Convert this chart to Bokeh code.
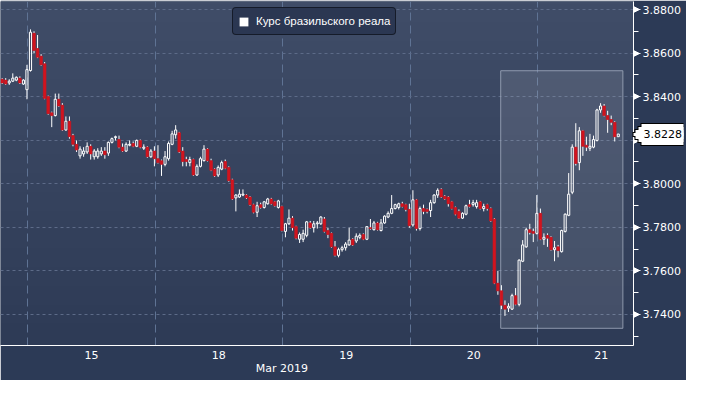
import numpy as np
from bokeh.plotting import figure
from bokeh.models import (FixedTicker, NumeralTickFormatter, BoxAnnotation,
                          Range1d, Legend, LegendItem, ColumnDataSource, LinearAxis)
from bokeh.embed import file_html
from bokeh.resources import INLINE

# ---------------- data ----------------
series_name = "Курс бразильского реала"
day_labels = ["15", "18", "19", "20", "21"]
month_label = "Mar 2019"
last_price = 3.8228
y_ticks = [3.74, 3.76, 3.78, 3.80, 3.82, 3.84, 3.86, 3.88]

open_ = [
    3.8480, 3.8476, 3.8463, 3.8471, 3.8476, 3.8485, 3.8458, 3.8432, 3.8520, 3.8691,
    3.8621, 3.8586, 3.8551, 3.8401, 3.8326, 3.8313, 3.8388, 3.8361, 3.8247, 3.8287,
    3.8221, 3.8181, 3.8128, 3.8137, 3.8146, 3.8172, 3.8124, 3.8124, 3.8137, 3.8150,
    3.8141, 3.8190, 3.8212, 3.8203, 3.8168, 3.8150, 3.8177, 3.8185, 3.8172, 3.8199,
    3.8163, 3.8168, 3.8124, 3.8150, 3.8115, 3.8106, 3.8089, 3.8115, 3.8181, 3.8225,
    3.8234, 3.8150, 3.8111, 3.8097, 3.8111, 3.8040, 3.8080, 3.8106, 3.8159, 3.8106,
    3.8067, 3.8040, 3.8067, 3.8102, 3.8075, 3.8018, 3.7935, 3.7939, 3.7948, 3.7948,
    3.7939, 3.7904, 3.7869, 3.7904, 3.7891, 3.7908, 3.7930, 3.7917, 3.7891, 3.7895,
    3.7781, 3.7816, 3.7842, 3.7803, 3.7745, 3.7745, 3.7763, 3.7820, 3.7798, 3.7816,
    3.7816, 3.7838, 3.7785, 3.7772, 3.7710, 3.7671, 3.7697, 3.7706, 3.7719, 3.7745,
    3.7737, 3.7754, 3.7767, 3.7745, 3.7798, 3.7789, 3.7820, 3.7785, 3.7820, 3.7847,
    3.7864, 3.7886, 3.7891, 3.7908, 3.7904, 3.7882, 3.7811, 3.7926, 3.7794, 3.7886,
    3.7882, 3.7877, 3.7913, 3.7948, 3.7974, 3.7943, 3.7939, 3.7917, 3.7891, 3.7873,
    3.7842, 3.7860, 3.7904, 3.7904, 3.7895, 3.7917, 3.7886, 3.7904, 3.7886, 3.7838,
    3.7543, 3.7508, 3.7442, 3.7429, 3.7424, 3.7486, 3.7446, 3.7644, 3.7710, 3.7789,
    3.7781, 3.7772, 3.7864, 3.7745, 3.7763, 3.7754, 3.7697, 3.7710, 3.7688, 3.7781,
    3.7855, 3.7961, 3.8168, 3.8097, 3.8243, 3.8177, 3.8163, 3.8168, 3.8199, 3.8339,
    3.8357, 3.8313, 3.8295, 3.8282, 3.8216,
]
high = [
    3.8485, 3.8485, 3.8480, 3.8507, 3.8493, 3.8493, 3.8480, 3.8546, 3.8709, 3.8700,
    3.8683, 3.8595, 3.8559, 3.8405, 3.8331, 3.8414, 3.8414, 3.8370, 3.8309, 3.8309,
    3.8229, 3.8199, 3.8172, 3.8168, 3.8190, 3.8181, 3.8159, 3.8163, 3.8168, 3.8168,
    3.8194, 3.8212, 3.8221, 3.8221, 3.8185, 3.8190, 3.8199, 3.8194, 3.8203, 3.8203,
    3.8181, 3.8172, 3.8159, 3.8172, 3.8177, 3.8111, 3.8150, 3.8194, 3.8243, 3.8269,
    3.8238, 3.8168, 3.8124, 3.8124, 3.8115, 3.8089, 3.8124, 3.8177, 3.8163, 3.8115,
    3.8071, 3.8084, 3.8106, 3.8111, 3.8080, 3.8023, 3.7952, 3.7974, 3.7974, 3.7952,
    3.7943, 3.7908, 3.7917, 3.7913, 3.7921, 3.7935, 3.7935, 3.7921, 3.7926, 3.7899,
    3.7820, 3.7882, 3.7851, 3.7807, 3.7776, 3.7789, 3.7829, 3.7829, 3.7829, 3.7829,
    3.7851, 3.7847, 3.7798, 3.7776, 3.7737, 3.7706, 3.7715, 3.7732, 3.7798, 3.7750,
    3.7772, 3.7772, 3.7772, 3.7803, 3.7838, 3.7829, 3.7825, 3.7838, 3.7855, 3.7873,
    3.7948, 3.7908, 3.7913, 3.7917, 3.7908, 3.7908, 3.7970, 3.7930, 3.7895, 3.7904,
    3.7886, 3.7926, 3.7952, 3.7979, 3.7979, 3.7948, 3.7943, 3.7921, 3.7895, 3.7882,
    3.7869, 3.7904, 3.7926, 3.7926, 3.7926, 3.7921, 3.7908, 3.7908, 3.7891, 3.7842,
    3.7600, 3.7534, 3.7464, 3.7451, 3.7495, 3.7521, 3.7653, 3.7741, 3.7798, 3.7816,
    3.7794, 3.7948, 3.7886, 3.7772, 3.7772, 3.7759, 3.7737, 3.7719, 3.7789, 3.7864,
    3.8049, 3.8181, 3.8278, 3.8260, 3.8247, 3.8216, 3.8229, 3.8221, 3.8344, 3.8370,
    3.8366, 3.8335, 3.8313, 3.8287, 3.8229,
]
low = [
    3.8458, 3.8454, 3.8454, 3.8467, 3.8471, 3.8458, 3.8454, 3.8388, 3.8515, 3.8599,
    3.8577, 3.8542, 3.8388, 3.8317, 3.8260, 3.8309, 3.8353, 3.8243, 3.8243, 3.8207,
    3.8172, 3.8146, 3.8115, 3.8124, 3.8137, 3.8111, 3.8111, 3.8115, 3.8128, 3.8115,
    3.8128, 3.8185, 3.8199, 3.8163, 3.8146, 3.8146, 3.8172, 3.8168, 3.8168, 3.8163,
    3.8155, 3.8119, 3.8119, 3.8080, 3.8093, 3.8036, 3.8080, 3.8106, 3.8177, 3.8207,
    3.8141, 3.8080, 3.8080, 3.8080, 3.8036, 3.8036, 3.8075, 3.8102, 3.8102, 3.8058,
    3.8031, 3.8031, 3.8062, 3.8067, 3.8009, 3.7926, 3.7873, 3.7935, 3.7943, 3.7930,
    3.7899, 3.7864, 3.7847, 3.7886, 3.7886, 3.7904, 3.7904, 3.7895, 3.7886, 3.7781,
    3.7754, 3.7811, 3.7785, 3.7745, 3.7728, 3.7732, 3.7754, 3.7794, 3.7776, 3.7794,
    3.7811, 3.7776, 3.7750, 3.7706, 3.7666, 3.7662, 3.7688, 3.7693, 3.7715, 3.7715,
    3.7728, 3.7745, 3.7741, 3.7741, 3.7789, 3.7785, 3.7785, 3.7781, 3.7816, 3.7842,
    3.7860, 3.7882, 3.7882, 3.7891, 3.7873, 3.7798, 3.7803, 3.7785, 3.7785, 3.7860,
    3.7864, 3.7847, 3.7908, 3.7935, 3.7935, 3.7926, 3.7895, 3.7882, 3.7855, 3.7838,
    3.7838, 3.7855, 3.7891, 3.7895, 3.7886, 3.7882, 3.7873, 3.7877, 3.7825, 3.7539,
    3.7490, 3.7424, 3.7393, 3.7411, 3.7420, 3.7442, 3.7437, 3.7640, 3.7706, 3.7767,
    3.7732, 3.7767, 3.7741, 3.7719, 3.7710, 3.7693, 3.7644, 3.7662, 3.7684, 3.7776,
    3.7851, 3.7952, 3.8084, 3.8062, 3.8128, 3.8150, 3.8150, 3.8163, 3.8194, 3.8326,
    3.8309, 3.8234, 3.8269, 3.8194, 3.8216,
]
close = [
    3.8463, 3.8458, 3.8471, 3.8485, 3.8489, 3.8463, 3.8476, 3.8524, 3.8696, 3.8612,
    3.8581, 3.8546, 3.8392, 3.8322, 3.8313, 3.8388, 3.8357, 3.8247, 3.8287, 3.8216,
    3.8181, 3.8155, 3.8159, 3.8150, 3.8172, 3.8137, 3.8150, 3.8150, 3.8150, 3.8133,
    3.8190, 3.8207, 3.8216, 3.8168, 3.8150, 3.8181, 3.8181, 3.8172, 3.8199, 3.8168,
    3.8168, 3.8124, 3.8150, 3.8115, 3.8097, 3.8089, 3.8124, 3.8185, 3.8229, 3.8247,
    3.8146, 3.8102, 3.8102, 3.8111, 3.8040, 3.8080, 3.8115, 3.8159, 3.8106, 3.8062,
    3.8036, 3.8075, 3.8097, 3.8071, 3.8014, 3.7930, 3.7948, 3.7952, 3.7952, 3.7935,
    3.7904, 3.7869, 3.7899, 3.7891, 3.7917, 3.7930, 3.7908, 3.7899, 3.7921, 3.7785,
    3.7816, 3.7842, 3.7798, 3.7750, 3.7767, 3.7772, 3.7825, 3.7798, 3.7816, 3.7820,
    3.7847, 3.7781, 3.7767, 3.7710, 3.7671, 3.7697, 3.7706, 3.7723, 3.7741, 3.7719,
    3.7759, 3.7763, 3.7745, 3.7803, 3.7794, 3.7820, 3.7789, 3.7820, 3.7851, 3.7864,
    3.7886, 3.7904, 3.7908, 3.7895, 3.7882, 3.7807, 3.7926, 3.7794, 3.7886, 3.7873,
    3.7873, 3.7913, 3.7948, 3.7970, 3.7939, 3.7930, 3.7908, 3.7886, 3.7860, 3.7842,
    3.7864, 3.7899, 3.7895, 3.7913, 3.7913, 3.7886, 3.7895, 3.7886, 3.7829, 3.7543,
    3.7508, 3.7442, 3.7424, 3.7437, 3.7486, 3.7446, 3.7649, 3.7719, 3.7789, 3.7776,
    3.7772, 3.7864, 3.7745, 3.7754, 3.7750, 3.7697, 3.7706, 3.7693, 3.7785, 3.7860,
    3.7952, 3.8168, 3.8093, 3.8243, 3.8172, 3.8168, 3.8172, 3.8203, 3.8339, 3.8357,
    3.8313, 3.8295, 3.8282, 3.8216, 3.8228,
]

# ---------------- layout constants ----------------
candles_per_day = 36
first_boundary = 7.2            # x (candle units) of first day separator
highlight_left, highlight_right = 140.8, 175.3
highlight_bottom, highlight_top = 3.7336, 3.8519
X0, X1 = -0.47, 178.3
Y0, Y1 = 3.7257, 3.8837

N = len(close)
o = np.array(open_); c = np.array(close); h = np.array(high); l = np.array(low)
xs = np.arange(N)
up = c >= o
btop = np.maximum(o, c)
bbot = np.minimum(o, c)

RED = "#d2141e"
FONT = "DejaVu Sans"

p = figure(width=686, height=380, output_backend="svg", toolbar_location=None,
           x_range=Range1d(X0, X1), y_range=Range1d(Y0, Y1),
           y_axis_location="right", min_border_left=0, min_border_top=1,
           min_border_bottom=35, min_border_right=53)
p.background_fill_color = "#37445f"
p.border_fill_color = "#2c3a56"
p.outline_line_color = None

# vertical gradient background
ny = 128
t = np.linspace(0.0, 1.0, ny)[:, None]
bot_rgb = np.array([46, 59, 86]); top_rgb = np.array([64, 77, 104])
cols = (bot_rgb * (1 - t) + top_rgb * t).astype(np.uint8)
img = np.empty((ny, 1), dtype=np.uint32)
view = img.view(dtype=np.uint8).reshape((ny, 1, 4))
view[:, 0, 0] = cols[:, 0]; view[:, 0, 1] = cols[:, 1]; view[:, 0, 2] = cols[:, 2]; view[:, 0, 3] = 255
p.image_rgba(image=[img], x=X0, y=Y0, dw=X1 - X0, dh=Y1 - Y0, level="image")

# grids
day_bounds = [first_boundary + k * candles_per_day for k in range(len(day_labels))]
day_centers = [b + candles_per_day / 2 for b in day_bounds]
p.xgrid.ticker = FixedTicker(ticks=day_bounds)
p.xgrid.grid_line_color = "#5f7394"
p.xgrid.grid_line_dash = "8 5"
p.xgrid.grid_line_width = 1
p.ygrid.ticker = FixedTicker(ticks=y_ticks)
p.ygrid.grid_line_color = "#5d6b88"
p.ygrid.grid_line_dash = "3 3"

# highlight box
box = BoxAnnotation(left=highlight_left, right=highlight_right,
                    bottom=highlight_bottom, top=highlight_top,
                    fill_color="white", fill_alpha=0.1,
                    line_color="#a3adbf", line_alpha=0.8, line_width=1, level="underlay")
p.add_layout(box)

# wicks
p.segment(x0=xs, y0=h, x1=xs, y1=btop, line_color="white", line_width=1)
p.segment(x0=xs, y0=bbot, x1=xs, y1=l, line_color="white", line_width=1)

# bodies
src_up = ColumnDataSource(dict(x=xs[up], top=btop[up], bottom=bbot[up]))
src_dn = ColumnDataSource(dict(x=xs[~up], top=btop[~up], bottom=bbot[~up]))
p.vbar(x="x", top="top", bottom="bottom", width=0.6, source=src_up,
       fill_color=None, line_color="white", line_width=1)
p.vbar(x="x", top="top", bottom="bottom", width=0.75, source=src_dn,
       fill_color=RED, line_color=RED, line_width=0.6)

# ---------------- right axis (stacked pieces) ----------------
blank = {v: "" for v in y_ticks}
minor = [(a + b) / 2 for a, b in zip(y_ticks[:-1], y_ticks[1:])] + [y_ticks[0] - 0.01]

def piece(axis, width, t_in, t_out, minor_len=0):
    axis.ticker = FixedTicker(ticks=y_ticks, minor_ticks=minor if minor_len else [])
    axis.major_label_overrides = blank
    axis.major_label_standoff = 0
    axis.major_label_text_font_size = "1px"
    axis.major_tick_line_color = "white"
    axis.major_tick_line_width = width
    axis.major_tick_in = t_in
    axis.major_tick_out = t_out
    axis.minor_tick_line_color = "white" if minor_len else None
    axis.minor_tick_in = minor_len
    axis.minor_tick_out = 0
    return axis

# first piece = the figure's own axis (holds the axis line)
ya = piece(p.yaxis[0], 7, 0, 1)
ya.axis_line_color = "white"
for w, tin, tout, mlen in [(5, 1, 2, 0), (3, 3, 2, 0), (1, 5, 2, 5)]:
    ax = piece(LinearAxis(), w, tin, tout, mlen)
    ax.axis_line_color = None
    p.add_layout(ax, "right")

# tick labels
lab = LinearAxis(ticker=FixedTicker(ticks=y_ticks, minor_ticks=[]),
                 formatter=NumeralTickFormatter(format="0.0000"),
                 axis_line_color=None, major_tick_line_color=None, minor_tick_line_color=None,
                 major_tick_in=0, major_tick_out=0, minor_tick_in=0, minor_tick_out=0,
                 major_label_text_color="white", major_label_text_font=FONT,
                 major_label_text_font_size="11px", major_label_standoff=2)
p.add_layout(lab, "right")

# last price tag: arrow-shaped white box built from thick inward ticks, text on top
def tag_piece(color, width, t_in, text=""):
    return LinearAxis(ticker=FixedTicker(ticks=[last_price], minor_ticks=[]),
                      major_label_overrides={last_price: text}, axis_line_color=None,
                      major_tick_line_color=color, major_tick_line_width=width,
                      major_tick_in=t_in, major_tick_out=0, minor_tick_line_color=None,
                      minor_tick_in=0, minor_tick_out=0,
                      major_label_text_color="black", major_label_text_font=FONT,
                      major_label_text_font_size="11px" if text else "1px",
                      major_label_standoff=-40 if text else 0)

for w, tin in [(23, 43), (17, 46), (11, 49), (5, 51)]:
    p.add_layout(tag_piece("black", w, tin), "right")
for w, tin in [(21, 42), (15, 45), (9, 48)]:
    p.add_layout(tag_piece("white", w, tin), "right")
p.add_layout(tag_piece("white", 3, 50, f"{last_price:.4f}"), "right")

# ---------------- bottom axes ----------------
xa = p.xaxis[0]
xa.ticker = FixedTicker(ticks=day_centers, minor_ticks=[])
xa.major_label_overrides = dict(zip(day_centers, day_labels))
xa.axis_line_color = "white"
xa.major_tick_line_color = None
xa.minor_tick_line_color = None
xa.major_tick_out = 0
xa.major_tick_in = 0
xa.minor_tick_out = 0
xa.minor_tick_in = 0
xa.major_label_text_color = "white"
xa.major_label_text_font = FONT
xa.major_label_text_font_size = "11px"
xa.major_label_standoff = 5

month_pos = day_bounds[2] - 0.2
p.add_layout(LinearAxis(ticker=FixedTicker(ticks=[month_pos], minor_ticks=[]),
                        major_label_overrides={month_pos: month_label},
                        axis_line_color=None, major_tick_line_color=None, minor_tick_line_color=None,
                        major_tick_out=0, major_tick_in=0, minor_tick_out=0, minor_tick_in=0,
                        major_label_text_color="white", major_label_text_font=FONT,
                        major_label_text_font_size="11px", major_label_standoff=0), "below")

# legend
nan = float("nan")
r_leg = p.quad(left=[nan], right=[nan], top=[nan], bottom=[nan], fill_color="white", line_color=None)
legend = Legend(items=[LegendItem(label=series_name, renderers=[r_leg])],
                location=(232, 310), orientation="horizontal",
                background_fill_color="#2b3752", background_fill_alpha=1,
                border_line_color="black", border_line_width=1,
                label_text_color="white", label_text_font="Liberation Sans",
                label_text_font_size="11.5px", glyph_width=11, glyph_height=11,
                label_height=16, padding=5, margin=0, label_standoff=7, spacing=0)
if "border_radius" in Legend.properties():
    legend.border_radius = 4
p.add_layout(legend)

open("out.html", "w").write(file_html(p, INLINE))
